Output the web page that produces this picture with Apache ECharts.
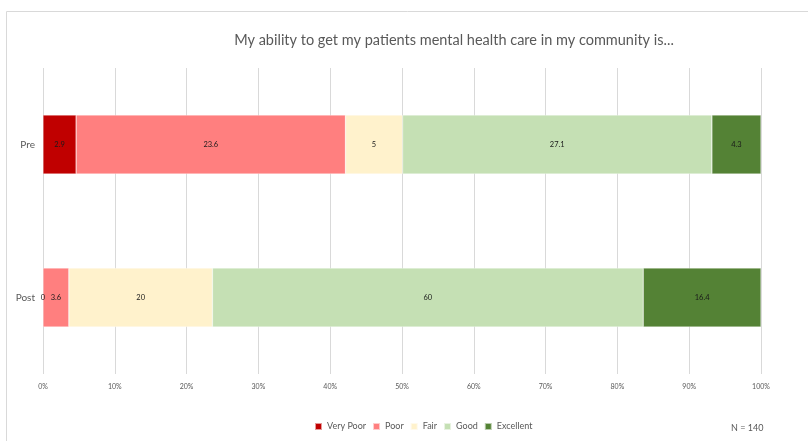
<!DOCTYPE html>
<html>
<head>
<meta charset="utf-8">
<script src="https://cdn.jsdelivr.net/npm/echarts@6/dist/echarts.min.js"></script>
<style>
  html, body { margin: 0; padding: 0; background: #fff; }
  #chart { width: 808px; height: 441px; }
</style>
</head>
<body>
<div id="chart"></div>
<script>
// survey answers, Pre vs Post (raw values, drawn as 100% stacked)
const groups = ['Pre', 'Post']
const seriesNames = ['Very Poor', 'Poor', 'Fair', 'Good', 'Excellent']
const veryPoor = [2.9, 0]
const poor = [23.6, 3.6]
const fair = [5, 20]
const good = [27.1, 60]
const excellent = [4.3, 16.4]
const tickLabels = ['0%', '10%', '20%', '30%', '40%', '50%', '60%', '70%', '80%', '90%', '100%']
const colors = ['#C00000', '#FF7F7F', '#FFF2CC', '#C5E0B4', '#548235']

const raw = [veryPoor, poor, fair, good, excellent]
const totals = groups.map((g, i) => raw.reduce((s, arr) => s + arr[i], 0))

const chart = echarts.init(document.getElementById('chart'))

chart.setOption({
  animation: false,
  textStyle: { fontFamily: 'Lato' },
  title: {
    text: 'My ability to get my patients mental health care in my community is...',
    left: 449,
    textAlign: 'center',
    top: 28,
    textStyle: { color: '#595959', fontSize: 14.5, fontWeight: 'normal', fontFamily: 'Lato' }
  },
  graphic: [{
    type: 'rect',
    shape: { x: 6.5, y: 11.5, width: 900, height: 500 },
    style: { fill: 'none', stroke: '#d9d9d9', lineWidth: 1 }
  }, {
    type: 'text',
    left: 731,
    top: 424,
    style: { text: 'N = 140', fill: '#595959', fontSize: 9, fontFamily: 'Lato' }
  }],
  legend: {
    data: seriesNames,
    left: 309,
    top: 417,
    itemWidth: 7,
    itemHeight: 7,
    itemGap: 6,
    icon: 'rect',
    textStyle: { color: '#595959', fontSize: 9 }
  },
  grid: {
    left: 43,
    right: 47,
    top: 68,
    height: 306,
    containLabel: false
  },
  xAxis: {
    type: 'value',
    min: 0,
    max: 100,
    interval: 10,
    axisLine: { show: false },
    axisTick: { show: false },
    splitLine: { lineStyle: { color: '#d9d9d9' } },
    axisLabel: {
      color: '#595959',
      fontSize: 7,
      margin: 9,
      formatter: (v) => tickLabels[Math.round(v / 10)]
    }
  },
  yAxis: {
    type: 'category',
    data: groups,
    inverse: true,
    axisLine: { show: false },
    axisTick: { show: false },
    axisLabel: { color: '#595959', fontSize: 10, margin: 8 }
  },
  series: seriesNames.map((name, k) => ({
    name: name,
    type: 'bar',
    stack: 'total',
    barWidth: '38.5%',
    itemStyle: { color: colors[k], borderColor: 'rgba(255,255,255,0.6)', borderWidth: 0.5 },
    label: {
      show: true,
      position: 'inside',
      color: '#1a1a1a',
      fontSize: 7.5,
      formatter: (p) => String(raw[k][p.dataIndex])
    },
    data: raw[k].map((v, i) => v / totals[i] * 100)
  }))
})
</script>
</body>
</html>
